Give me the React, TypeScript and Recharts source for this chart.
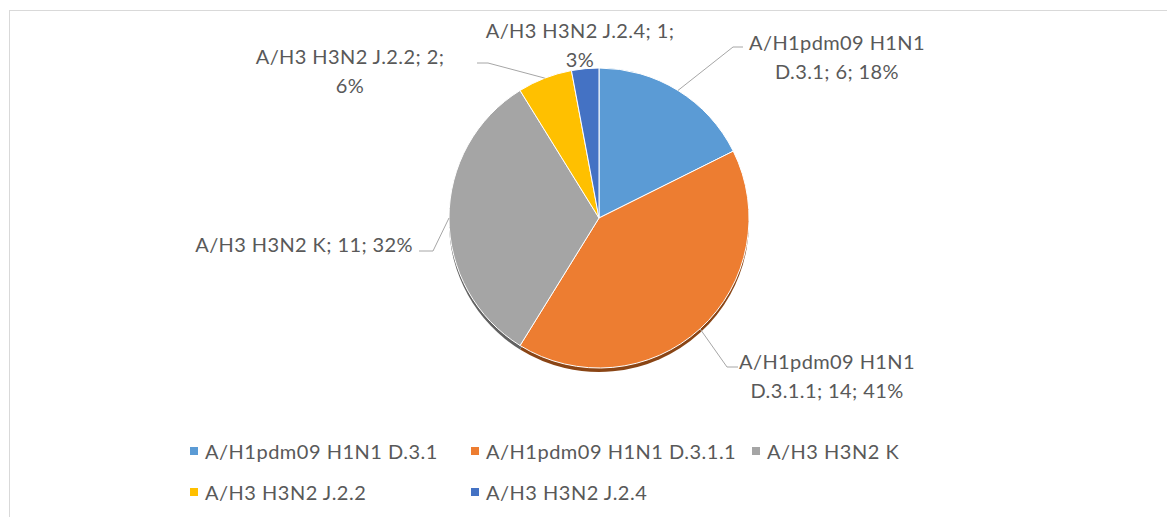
import { PieChart, Pie, Cell, Legend } from "recharts";

const categories = [
  "A/H1pdm09 H1N1 D.3.1",
  "A/H1pdm09 H1N1 D.3.1.1",
  "A/H3 H3N2 K",
  "A/H3 H3N2 J.2.2",
  "A/H3 H3N2 J.2.4",
];
const counts = [6, 14, 11, 2, 1];

const colors = ["#5b9bd5", "#ed7d31", "#a5a5a5", "#ffc000", "#4472c4"];
const shadowColors = ["#3d6f9c", "#8a4515", "#626262", "#9a7300", "#2b4c88"];

const data = categories.map((name, i) => ({ name, value: counts[i] }));

const FONT = "Lato, 'Noto Sans', sans-serif";
const TEXT = "#595959";
const RAD = Math.PI / 180;

// label placement relative to the pie centre (Excel labels were dragged out)
// wrap = number of words on the first line, 0 = single line
const labelLayout = [
  { tx: 238, ty: -162, anchor: "middle", wrap: 2, leader: [[134, -171], [144, -171]] },
  { tx: 228, ty: 157, anchor: "middle", wrap: 2, leader: [[128, 149], [139, 149]] },
  { tx: -186, ty: 26, anchor: "end", wrap: 0, leader: [[-166, 33], [-180, 33]] },
  { tx: -249, ty: -148, anchor: "middle", wrap: 4, leader: [[-111, -155], [-122, -155]] },
  { tx: -19, ty: -174, anchor: "middle", wrap: 4, leader: [] },
];

const renderLabel = (props: any) => {
  const { cx, cy, midAngle, outerRadius, index, name, value, percent } = props;
  const lay = labelLayout[index];
  const full = `${name}; ${value}; ${Math.round(percent * 100)}%`;
  const words = full.split(" ");
  const lines = lay.wrap ? [words.slice(0, lay.wrap).join(" "), words.slice(lay.wrap).join(" ")] : [full];
  const lh = 29;
  const ex = cx + outerRadius * Math.cos(-midAngle * RAD);
  const ey = cy + outerRadius * Math.sin(-midAngle * RAD);
  const pts = [[ex, ey], ...lay.leader.map(([dx, dy]) => [cx + dx, cy + dy])];
  return (
    <g>
      {lay.leader.length > 0 && (
        <polyline points={pts.map((p) => p.join(",")).join(" ")} fill="none" stroke="#a6a6a6" strokeWidth={1} />
      )}
      {lines.map((ln, i) => (
        <text
          key={i}
          x={cx + lay.tx}
          y={cy + lay.ty - ((lines.length - 1) / 2) * lh + i * lh}
          textAnchor={lay.anchor as any}
          dominantBaseline="central"
          fill={TEXT}
          fontSize={20}
          letterSpacing={0.4}
          fontFamily={FONT}
        >
          {ln}
        </text>
      ))}
    </g>
  );
};

const LegendGrid = () => (
  <div
    style={{
      display: "grid",
      gridTemplateColumns: "281px 281px 281px",
      rowGap: 17,
      fontFamily: FONT,
      fontSize: 20,
      letterSpacing: 0.5,
      color: TEXT,
    }}
  >
    {categories.map((c, i) => (
      <div key={c} style={{ display: "flex", alignItems: "center", height: 24 }}>
        <span style={{ width: 8, height: 8, background: colors[i], marginRight: 7, flexShrink: 0 }} />
        <span style={{ whiteSpace: "nowrap" }}>{c}</span>
      </div>
    ))}
  </div>
);

const App = () => {
  return (
    <div style={{ position: "relative", width: 1159, height: 509 }}>
      <div
        style={{
          position: "absolute",
          left: 1,
          top: 2,
          width: 1166,
          height: 507,
          borderTop: "1px solid #d9d9d9",
          borderLeft: "1px solid #d9d9d9",
          boxSizing: "border-box",
        }}
      />
      <PieChart
        width={1159}
        height={509}
        margin={{ top: 0, right: 0, bottom: 0, left: 0 }}
        style={{ position: "absolute", left: 0, top: 0 }}
      >
        <Pie
          data={data}
          dataKey="value"
          nameKey="name"
          cx={591}
          cy={214}
          outerRadius={150}
          startAngle={90}
          endAngle={-270}
          stroke="none"
          legendType="none"
          isAnimationActive={false}
        >
          {data.map((d, i) => (
            <Cell key={d.name} fill={shadowColors[i]} />
          ))}
        </Pie>
        <Pie
          data={data}
          dataKey="value"
          nameKey="name"
          cx={591}
          cy={210}
          outerRadius={150}
          startAngle={90}
          endAngle={-270}
          stroke="#ffffff"
          strokeWidth={1}
          label={renderLabel}
          labelLine={false}
          isAnimationActive={false}
        >
          {data.map((d, i) => (
            <Cell key={d.name} fill={colors[i]} />
          ))}
        </Pie>
        <Legend
          content={() => <LegendGrid />}
          wrapperStyle={{ left: 182, top: 431, width: 860 }}
        />
      </PieChart>
    </div>
  );
};

export default App;
